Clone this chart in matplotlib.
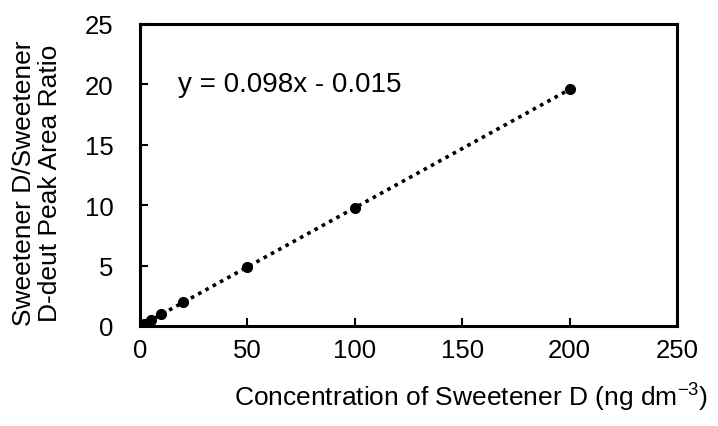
import matplotlib.pyplot as plt
import numpy as np

plt.rcParams['font.family'] = ['Liberation Sans', 'DejaVu Sans']

# calibration points
conc = [0, 1, 2, 5, 10, 20, 50, 100, 200]
ratio = [0.0, 0.08, 0.18, 0.47, 0.97, 1.95, 4.87, 9.78, 19.6]
slope, intercept = 0.098, -0.015

fig = plt.figure(figsize=(7.18, 4.27), dpi=100)
ax = fig.add_axes([140 / 718, 1 - 327 / 427, 537 / 718, 302 / 427])

xfit = np.array([0, 200])
ax.plot(xfit, slope * xfit + intercept, color='black', linestyle=(0, (1, 1.3)), linewidth=2.6)
ax.plot(conc, ratio, 'o', color='black', markersize=7)

ax.set_xlim(0, 250)
ax.set_ylim(0, 25)
ax.set_xticks([0, 50, 100, 150, 200, 250])
ax.set_yticks([0, 5, 10, 15, 20, 25])
ax.tick_params(direction='in', length=6, width=1.5, labelsize=18.5)
ax.tick_params(axis='x', pad=9)
ax.tick_params(axis='y', pad=19)
for s in ax.spines.values():
    s.set_linewidth(2.2)

ax.text(17.7, 20, 'y = 0.098x - 0.015', fontsize=20, va='center')

fig.text(37 / 718, 1 - 183 / 427, 'Sweetener D/Sweetener\nD-deut Peak Area Ratio', rotation=90,
         fontsize=19, ha='center', va='center', linespacing=1.1)
fig.text(471 / 718, 1 - 397 / 427, 'Concentration of Sweetener D (ng dm$^{\\mathregular{-3}}$)',
         fontsize=19, ha='center', va='center')

fig.savefig('out.png', dpi=100)
